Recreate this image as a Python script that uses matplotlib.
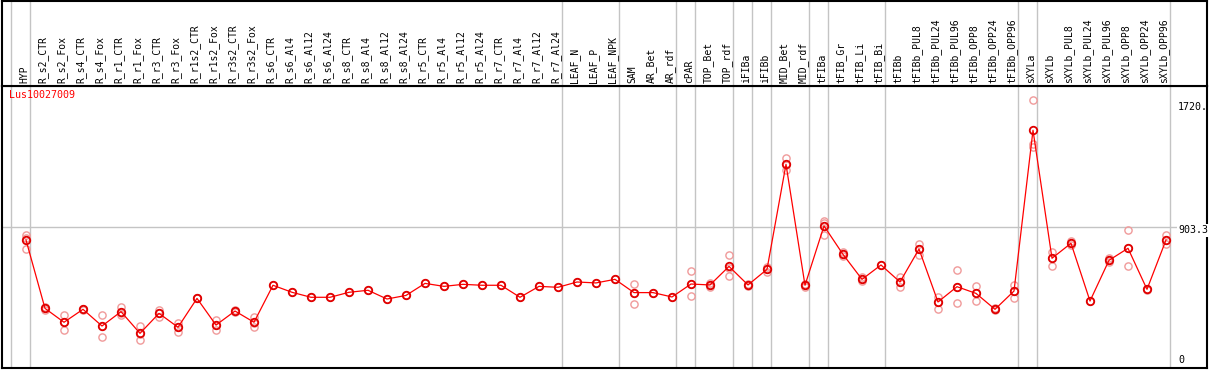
import numpy as np
import matplotlib.pyplot as plt

gene = "Lus10027009"

samples = ["HYP", "R_s2_CTR", "R_s2_Fox", "R_s4_CTR", "R_s4_Fox", "R_r1_CTR", "R_r1_Fox",
           "R_r3_CTR", "R_r3_Fox", "R_r1s2_CTR", "R_r1s2_Fox", "R_r3s2_CTR", "R_r3s2_Fox",
           "R_s6_CTR", "R_s6_Al4", "R_s6_Al12", "R_s6_Al24", "R_s8_CTR", "R_s8_Al4",
           "R_s8_Al12", "R_s8_Al24", "R_r5_CTR", "R_r5_Al4", "R_r5_Al12", "R_r5_Al24",
           "R_r7_CTR", "R_r7_Al4", "R_r7_Al12", "R_r7_Al24", "LEAF_N", "LEAF_P", "LEAF_NPK",
           "SAM", "AR_Bet", "AR_rdf", "cPAR", "TOP_Bet", "TOP_rdf", "iFIBa", "iFIBb",
           "MID_Bet", "MID_rdf", "tFIBa", "tFIB_Gr", "tFIB_Li", "tFIB_Bi", "tFIBb",
           "tFIBb_PUL8", "tFIBb_PUL24", "tFIBb_PUL96", "tFIBb_OPP8", "tFIBb_OPP24", "tFIBb_OPP96",
           "sXYLa", "sXYLb", "sXYLb_PUL8", "sXYLb_PUL24", "sXYLb_PUL96", "sXYLb_OPP8",
           "sXYLb_OPP24", "sXYLb_OPP96"]

# mean expression per sample
means = [820, 382, 293, 376, 269, 361, 222, 350, 261, 446, 275, 365, 293,
         530, 485, 453, 453, 485, 498, 442, 465, 542, 523, 536, 530,
         530, 453, 523, 517, 551, 545, 568,
         483, 483, 455, 538, 532, 651, 532, 632,
         1305, 530, 910, 728, 568, 660, 551,
         762, 423, 521, 478, 376, 493,
         1523, 703, 799, 429, 690, 767, 504, 820]

# individual replicates
reps = [[850, 835, 760], [371, 392, 383], [340, 243, 296], [376, 380, 372], [340, 197, 270],
        [393, 340, 350], [269, 179, 218], [371, 329, 350], [290, 233, 260], [446, 446, 446],
        [307, 243, 275], [370, 360, 365], [325, 265, 290],
        [530], [485], [453], [453], [485], [498], [442], [465], [542], [523], [536], [530],
        [530], [453], [523], [517], [551], [545], [568],
        [538, 408, 483], [483], [455], [619, 459, 538], [545, 520, 532], [724, 589, 640],
        [540, 525, 532], [645, 615, 632],
        [1347, 1268, 1300], [540, 520, 530], [944, 852, 930], [740, 715, 728], [580, 560, 568],
        [660], [585, 517, 551],
        [794, 724, 762], [457, 380, 423], [626, 414, 521], [525, 431, 478], [385, 370, 376],
        [532, 450, 493],
        [1720, 1433, 1418], [743, 655, 703], [812, 790, 799], [429], [705, 680, 690],
        [882, 653, 767], [504, 500], [852, 792, 820]]

# group separators (after these sample indices)
group_ends = [-1, 0, 28, 31, 34, 35, 37, 38, 39, 41, 42, 45, 52, 53, 60]

ymax = 1806.6
mid = 903.3
top_val = 1720.0

W, H = 1209, 370
fig = plt.figure(figsize=(W / 100, H / 100), dpi=100)

x0 = (2 - 26) / 19
x1 = (1207 - 26) / 19
ax_l = 2 / W
ax_w = 1205 / W

ax = fig.add_axes([ax_l, 2 / H, ax_w, 282 / H])
axh = fig.add_axes([ax_l, 284 / H, ax_w, 85 / H])

for a in (ax, axh):
    a.set_xlim(x0, x1)
    a.set_xticks([])
    a.set_yticks([])
    for s in a.spines.values():
        s.set_color("black")
        s.set_linewidth(1.5)
    for g in group_ends:
        a.axvline(g + 4 / 19, color="#c4c4c4", lw=1.0, zorder=1)

axh.set_ylim(85, 0)
for i, name in enumerate(samples):
    axh.text(i - 2 / 19, 82, name, rotation=90, ha="center", va="bottom",
             fontsize=7.0, family="DejaVu Sans Mono", color="black")

ax.set_ylim(0, ymax)
ax.axhline(mid, color="#c4c4c4", lw=1.0, zorder=1)

x = np.arange(len(samples))
for i, r in enumerate(reps):
    ax.plot([i] * len(r), r, linestyle="none", marker="o", ms=5.2, mfc="none",
            mec="#f09a9a", mew=1.0, zorder=2)
ax.plot(x, means, color="red", lw=0.9, zorder=3)
ax.plot(x, means, linestyle="none", marker="o", ms=5.4, mfc="none",
        mec="#e00000", mew=1.3, zorder=4)

ax.text(0.006, 0.985, gene, transform=ax.transAxes, ha="left", va="top",
        fontsize=7.2, family="DejaVu Sans Mono", color="red")

lab_x = (1178 - 26) / 19
ax.text(lab_x, top_val - 15, "1720.", ha="left", va="top", fontsize=7.2,
        family="DejaVu Sans Mono", color="black")
ax.text(lab_x, mid - 20, "903.3", ha="left", va="center", fontsize=7.2,
        family="DejaVu Sans Mono", color="black",
        bbox=dict(facecolor="white", edgecolor="none", pad=1))
ax.text(lab_x, 20, "0", ha="left", va="bottom", fontsize=7.2,
        family="DejaVu Sans Mono", color="black")

fig.savefig("out.png", dpi=100)
